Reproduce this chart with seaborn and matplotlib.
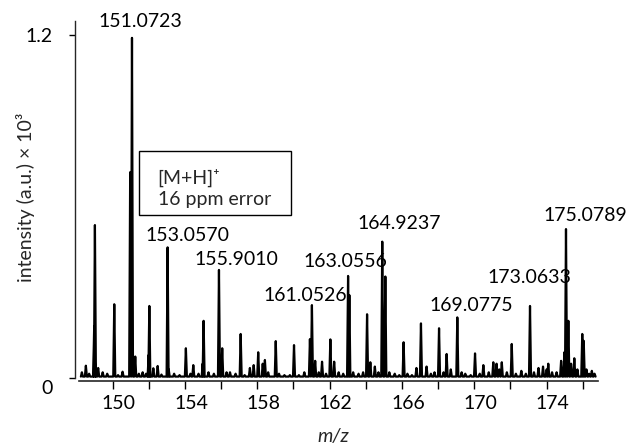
import numpy as np
import pandas as pd
import matplotlib
matplotlib.use("Agg")
import matplotlib.pyplot as plt
import seaborn as sns
from matplotlib.transforms import ScaledTranslation
from matplotlib.patches import Rectangle

# ---------------- data ----------------
peak_mz = [148.30, 148.52, 148.70, 148.98, 149.02, 149.20, 149.45, 149.70, 150.09, 150.30,
           150.55, 150.97, 151.07, 151.25, 151.45, 151.66, 151.85, 151.99, 152.03, 152.25,
           152.49, 152.70, 153.04, 153.10, 153.40, 153.70, 154.05, 154.30, 154.46, 154.75,
           154.98, 155.03, 155.30, 155.60, 155.88, 156.06, 156.30, 156.49, 156.80, 157.08,
           157.30, 157.59, 157.80, 158.05, 158.30, 158.42, 158.60, 159.02, 159.20, 159.50,
           159.80, 160.03, 160.30, 160.60, 160.91, 161.02, 161.20, 161.40, 161.58, 161.80,
           162.04, 162.25, 162.50, 162.75, 163.02, 163.09, 163.30, 163.60, 163.85, 164.07,
           164.25, 164.50, 164.70, 164.91, 165.08, 165.30, 165.60, 165.85, 166.09, 166.30,
           166.55, 166.80, 167.05, 167.36, 167.60, 167.80, 168.05, 168.30, 168.47, 168.70,
           169.06, 169.30, 169.50, 169.80, 170.04, 170.30, 170.50, 170.80, 171.05, 171.23,
           171.38, 171.52, 171.80, 172.07, 172.30, 172.60, 172.85, 173.08, 173.30, 173.55,
           173.80, 174.00, 174.09, 174.30, 174.55, 174.80, 174.98, 175.07, 175.20, 175.35,
           175.53, 175.70, 175.97, 176.05, 176.20, 176.35, 176.50, 176.65]
peak_int = [0.020, 0.043, 0.015, 0.180, 0.535, 0.035, 0.020, 0.015, 0.258, 0.010,
            0.022, 0.720, 1.190, 0.075, 0.015, 0.020, 0.015, 0.080, 0.252, 0.034,
            0.042, 0.012, 0.457, 0.030, 0.015, 0.010, 0.104, 0.015, 0.045, 0.015,
            0.050, 0.200, 0.020, 0.015, 0.378, 0.104, 0.020, 0.020, 0.015, 0.154,
            0.010, 0.035, 0.045, 0.090, 0.050, 0.063, 0.020, 0.129, 0.015, 0.010,
            0.010, 0.115, 0.010, 0.020, 0.136, 0.255, 0.060, 0.020, 0.057, 0.015,
            0.135, 0.057, 0.020, 0.015, 0.357, 0.290, 0.020, 0.015, 0.020, 0.223,
            0.055, 0.040, 0.020, 0.477, 0.355, 0.020, 0.015, 0.010, 0.125, 0.015,
            0.010, 0.035, 0.191, 0.040, 0.015, 0.020, 0.174, 0.020, 0.084, 0.030,
            0.212, 0.020, 0.015, 0.010, 0.086, 0.015, 0.045, 0.020, 0.055, 0.050,
            0.030, 0.055, 0.020, 0.119, 0.015, 0.025, 0.015, 0.252, 0.020, 0.035,
            0.040, 0.030, 0.050, 0.020, 0.020, 0.060, 0.090, 0.521, 0.200, 0.050,
            0.069, 0.030, 0.154, 0.130, 0.030, 0.015, 0.025, 0.015]
baseline = 0.005

label_texts = ["151.0723", "153.0570", "155.9010", "161.0526", "163.0556",
               "164.9237", "169.0775", "173.0633", "175.0789"]
x_tick_values = list(range(150, 177, 2))
x_tick_labels = [str(t) if t % 4 == 2 else "" for t in x_tick_values]
y_tick_values = [0, 1.2]
y_tick_labels = ["0", "1.2"]
box_lines = ["[M+H]\u207a", "16 ppm error"]

# ---------------- layout ----------------
label_pos = [(151.51, 1.246), (154.16, 0.500), (156.86, 0.416), (160.64, 0.290),
             (162.85, 0.407), (165.84, 0.542), (169.86, 0.255), (173.03, 0.350),
             (176.12, 0.567)]
half_width = 0.055
FS = 14

# build the profile line from the peak list
xs, ys = [], []
for m, h in sorted(zip(peak_mz, peak_int)):
    xs += [m - half_width, m, m + half_width]
    ys += [baseline, h, baseline]
df = pd.DataFrame({"mz": xs, "intensity": ys})

sns.set_style("ticks")
plt.rcParams["font.family"] = ["Lato", "DejaVu Sans"]

fig = plt.figure(figsize=(6.28, 4.45), dpi=100)
ax = fig.add_axes([79 / 628, 64 / 445, 519 / 628, 360 / 445])

sns.lineplot(data=df, x="mz", y="intensity", sort=False, estimator=None,
             color="black", linewidth=1.6, ax=ax)

ax.set_xlim(148.14, 176.84)
ax.set_ylim(-0.0105, 1.249)

for s in ["top", "right"]:
    ax.spines[s].set_visible(False)
ax.spines["left"].set_position(("outward", 3))
ax.spines["left"].set_bounds(0, 1.249)
ax.spines["left"].set_linewidth(1.0)
ax.spines["bottom"].set_linewidth(1.2)

ax.set_xticks(x_tick_values)
ax.set_xticklabels(x_tick_labels)
ax.set_yticks(y_tick_values)
ax.set_yticklabels(y_tick_labels)
ax.tick_params(axis="x", direction="out", length=6, width=1, labelsize=FS,
               pad=4, colors="black")
ax.tick_params(axis="y", direction="out", length=4, width=1, labelsize=FS,
               pad=12, colors="black")

xoff = ScaledTranslation(0.06, 0, fig.dpi_scale_trans)
for lab in ax.get_xticklabels():
    lab.set_transform(lab.get_transform() + xoff)
yl = ax.get_yticklabels()
yl[0].set_transform(yl[0].get_transform() + ScaledTranslation(0, -0.09, fig.dpi_scale_trans))

ax.set_xlabel("m/z", fontsize=FS, style="italic")
ax.xaxis.set_label_coords(0.49, -0.13)
ax.set_ylabel("intensity (a.u.) \u00d7 10\u00b3", fontsize=FS)
ax.yaxis.set_label_coords(-0.085, 0.511)

for t, (lx, ly) in zip(label_texts, label_pos):
    ax.text(lx, ly, t, ha="center", va="center", fontsize=FS, color="black")

ax.add_patch(Rectangle((151.455, 0.570), 159.86 - 151.455, 0.794 - 0.570,
                       fill=False, edgecolor="black", linewidth=1.0, zorder=3))
ax.text(152.49, 0.700, box_lines[0], ha="left", va="center", fontsize=FS)
ax.text(152.49, 0.624, box_lines[1], ha="left", va="center", fontsize=FS)

fig.savefig("out.png", dpi=100)
